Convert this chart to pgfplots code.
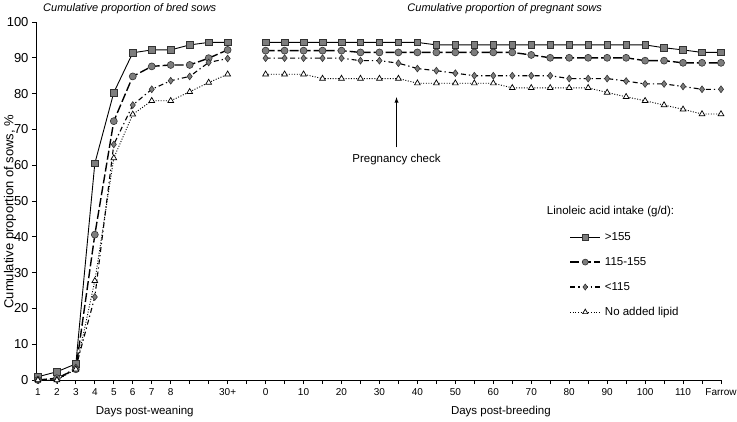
\documentclass[border=0pt]{standalone}
\usepackage{fontspec}
\setmainfont{Liberation Sans}
\usepackage{pgfplots}
\pgfplotsset{compat=1.18}
\definecolor{markgray}{RGB}{125,125,125}
\definecolor{edgegray}{RGB}{50,50,50}
\begin{document}
\begin{tikzpicture}
\useasboundingbox (-36pt,-41pt) rectangle (701pt,380pt);
\begin{axis}[
  scale only axis, width=685pt, height=358pt,
  xmin=-0.1, xmax=36, ymin=0, ymax=100,
  axis lines*=left,
  axis line style={black, line width=0.8pt},
  tick align=outside, major tick length=4pt,
  tick style={black, line width=0.7pt},
  xtick={0,...,36},
  xticklabels={1,2,3,4,5,6,7,8,,,30+,,0,,10,,20,,30,,40,,50,,60,,70,,80,,90,,100,,110,,Farrow},
  ytick={0,10,...,100},
  /pgf/number format/assume math mode=true,
  x tick label style={font=\fontsize{10}{11}\selectfont, yshift=-1pt},
  y tick label style={font=\fontsize{13}{14}\selectfont},
  clip=false,
  sq/.style={black, line width=0.9pt, mark=square*, mark size=3.3pt,
    mark options={solid, fill=markgray, draw=edgegray, line width=0.6pt}},
  ci/.style={black, line width=1.4pt, dash pattern=on 9pt off 3pt, mark=*, mark size=3.5pt,
    mark options={solid, fill=markgray, draw=edgegray, line width=0.6pt}},
  di/.style={black, line width=1.1pt, dash pattern=on 5pt off 3pt on 1.3pt off 3pt, mark=diamond*, mark size=3.4pt,
    mark options={solid, fill=markgray, draw=edgegray, line width=0.6pt}},
  tr/.style={black, line width=0.9pt, dash pattern=on 1pt off 1.6pt, mark=triangle*, mark size=3.3pt,
    mark options={solid, fill=white, draw=black, line width=0.7pt}},
  legend style={at={(axis cs:27.85,42.1)}, anchor=north west, draw=none, fill=none,
    font=\fontsize{11.5}{13}\selectfont, row sep=13.5pt, column sep=3pt,
    nodes={inner sep=1pt}},
  legend cell align=left,
  legend image code/.code={\draw[mark repeat=2,mark phase=2,mark size=3pt] plot coordinates {(0pt,0pt) (15pt,0pt) (30pt,0pt)};},
]
% bred sows (days post-weaning)
\addplot[sq, forget plot] coordinates {(0,0.9) (1,2.3) (2,4.5) (3,60.5) (4,80.3) (5,91.4) (6,92.2) (7,92.2) (8,93.6) (9,94.3) (10,94.3)};
\addplot[ci, forget plot] coordinates {(0,0) (1,0.5) (2,3.0) (3,40.6) (4,72.3) (5,84.8) (6,87.6) (7,88.0) (8,88.0) (9,89.9) (10,92.2)};
\addplot[di, forget plot] coordinates {(0,0) (1,0) (2,3.5) (3,23.2) (4,65.8) (5,76.8) (6,81.2) (7,83.6) (8,84.8) (9,88.7) (10,89.8)};
\addplot[tr, forget plot] coordinates {(0,0) (1,0) (2,3.0) (3,27.7) (4,62.0) (5,74.2) (6,78.0) (7,78.0) (8,80.5) (9,83.1) (10,85.4)};
% pregnant sows (days post-breeding)
\addplot[sq] coordinates {(12,94.3) (13,94.3) (14,94.3) (15,94.3) (16,94.3) (17,94.3) (18,94.3) (19,94.3) (20,94.3) (21,93.6) (22,93.6) (23,93.6) (24,93.6) (25,93.6) (26,93.6) (27,93.6) (28,93.6) (29,93.6) (30,93.6) (31,93.6) (32,93.6) (33,92.8) (34,92.2) (35,91.5) (36,91.5)};
\addlegendentry{>155}
\addplot[ci] coordinates {(12,92.0) (13,92.0) (14,92.0) (15,92.0) (16,92.0) (17,91.5) (18,91.5) (19,91.5) (20,91.5) (21,91.5) (22,91.5) (23,91.5) (24,91.5) (25,91.5) (26,90.8) (27,90.0) (28,90.0) (29,90.0) (30,90.0) (31,90.0) (32,89.2) (33,89.2) (34,88.6) (35,88.6) (36,88.6)};
\addlegendentry{115-155}
\addplot[di] coordinates {(12,89.9) (13,89.9) (14,89.9) (15,89.9) (16,89.9) (17,89.2) (18,89.2) (19,88.5) (20,87.0) (21,86.4) (22,85.7) (23,85.0) (24,85.0) (25,85.0) (26,85.0) (27,85.0) (28,84.2) (29,84.2) (30,84.2) (31,83.5) (32,82.7) (33,82.7) (34,82.0) (35,81.2) (36,81.2)};
\addlegendentry{<115}
\addplot[tr] coordinates {(12,85.4) (13,85.4) (14,85.4) (15,84.2) (16,84.2) (17,84.2) (18,84.2) (19,84.2) (20,82.9) (21,82.9) (22,82.9) (23,82.9) (24,82.9) (25,81.6) (26,81.6) (27,81.6) (28,81.6) (29,81.6) (30,80.3) (31,79.1) (32,78.0) (33,76.8) (34,75.6) (35,74.3) (36,74.3)};
\addlegendentry{No added lipid}
% texts
\node[font=\fontsize{11}{13}\selectfont\itshape] at (axis cs:4.84,103.6) {Cumulative proportion of bred sows};
\node[font=\fontsize{11}{13}\selectfont\itshape] at (axis cs:24.6,103.6) {Cumulative proportion of pregnant sows};
\node[font=\fontsize{11.5}{13}\selectfont] at (axis cs:5.63,-8.9) {Days post-weaning};
\node[font=\fontsize{11.5}{13}\selectfont] at (axis cs:24.4,-8.9) {Days post-breeding};
\node[font=\fontsize{13}{14}\selectfont, rotate=90] at (axis cs:-1.47,47) {Cumulative proportion of sows, \%};
\node[font=\fontsize{11.5}{13}\selectfont] at (axis cs:30.18,47.1) {Linoleic acid intake (g/d):};
\node[font=\fontsize{11.5}{13}\selectfont] at (axis cs:18.9,61.6) {Pregnancy check};
\draw[-latex, line width=0.9pt] (axis cs:18.9,65) -- (axis cs:18.9,79);
\end{axis}
\end{tikzpicture}
\end{document}
